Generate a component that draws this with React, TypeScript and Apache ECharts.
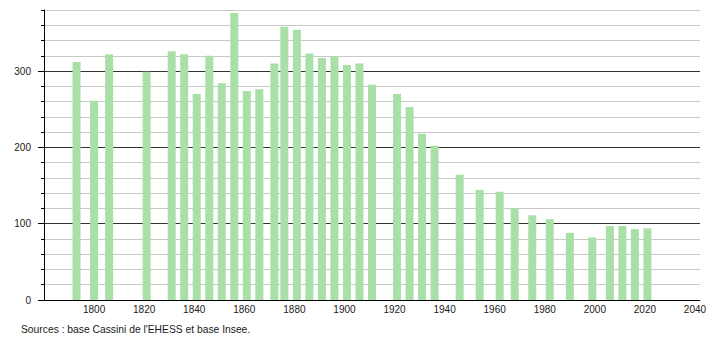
import React, { useEffect, useRef } from "react";
import * as echarts from "echarts";

const years = [
  1793, 1800, 1806, 1821, 1831, 1836, 1841, 1846, 1851, 1856, 1861, 1866, 1872,
  1876, 1881, 1886, 1891, 1896, 1901, 1906, 1911, 1921, 1926, 1931, 1936, 1946,
  1954, 1962, 1968, 1975, 1982, 1990, 1999, 2006, 2011, 2016, 2021,
];
const population = [
  312, 261, 322, 299, 326, 322, 270, 320, 284, 376, 274, 276, 310,
  358, 354, 323, 317, 319, 308, 310, 282, 270, 253, 218, 202, 164,
  144, 142, 120, 111, 106, 88, 82, 97, 97, 93, 94,
];
const yMajorTicks = [0, 100, 200, 300];
const sourceText = "Sources : base Cassini de l'EHESS et base Insee.";

const FONT = "Liberation Sans, Arial, sans-serif";

export default function App() {
  const ref = useRef<HTMLDivElement>(null);
  useEffect(() => {
    document.body.style.margin = "0";
    if (!ref.current) return;
    const chart = echarts.init(ref.current, null, { renderer: "svg" });
    const data = years.map((y, i) => [y, population[i]]);
    chart.setOption({
      animation: false,
      backgroundColor: "#ffffff",
      grid: { left: 44, right: 10, top: 10, bottom: 40, containLabel: false },
      xAxis: {
        type: "value",
        min: 1780,
        max: 2042,
        interval: 20,
        axisLine: { show: true, lineStyle: { color: "#000", width: 1 } },
        axisTick: { show: false },
        splitLine: { show: false },
        axisLabel: {
          showMinLabel: false,
          showMaxLabel: false,
          margin: 4,
          color: "#1a1a1a",
          fontSize: 10,
          fontFamily: FONT,
          formatter: (v: number) => String(v),
        },
      },
      yAxis: [
        {
          type: "value",
          min: 0,
          max: 380,
          interval: 20,
          position: "left",
          axisLine: { show: true, onZero: false, lineStyle: { color: "#000", width: 1 } },
          axisTick: { show: true, length: 3, lineStyle: { color: "#000" } },
          axisLabel: {
            customValues: yMajorTicks,
            margin: 13,
            color: "#1a1a1a",
            fontSize: 10,
            fontFamily: FONT,
            formatter: (v: number) => String(v),
          },
          splitLine: {
            show: true,
            lineStyle: {
              color: ["#333333", "#c8c8c8", "#c8c8c8", "#c8c8c8", "#c8c8c8"],
              width: 1,
            },
          },
        },
        {
          type: "value",
          min: 0,
          max: 380,
          position: "left",
          axisLine: { show: false },
          axisTick: {
            show: true,
            customValues: yMajorTicks,
            length: 6,
            lineStyle: { color: "#000" },
          },
          axisLabel: { show: false },
          splitLine: { show: false },
        },
      ],
      graphic: [
        {
          type: "text",
          left: 21,
          top: 324,
          style: {
            text: sourceText,
            fontSize: 10.3,
            fontFamily: FONT,
            fill: "#1a1a1a",
          },
        },
      ],
      series: [
        {
          type: "bar",
          yAxisIndex: 0,
          barWidth: 8,
          data,
          itemStyle: { color: "#a8e0a8" },
        },
      ],
    });
    return () => chart.dispose();
  }, []);
  return <div ref={ref} style={{ width: 710, height: 340 }} />;
}
